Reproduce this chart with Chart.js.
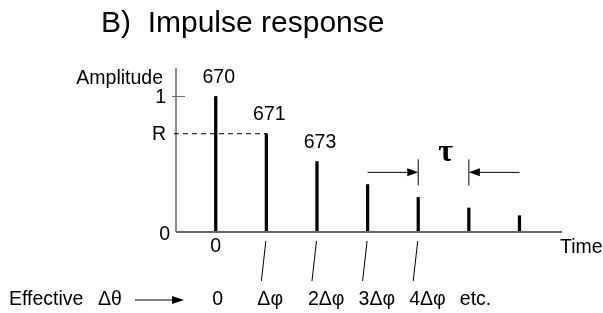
<!DOCTYPE html>
<html>
<head>
<meta charset="utf-8">
<script src="https://cdn.jsdelivr.net/npm/chart.js@4.4.0/dist/chart.umd.min.js"></script>
<style>
  html, body { margin: 0; padding: 0; background: #fff; }
  #wrap { width: 603px; height: 313px; position: relative; }
</style>
</head>
<body>
<div id="wrap"><canvas id="chart"></canvas></div>
<script>
// Impulse response data
const pulseTimes = [0, 1, 2, 3, 4, 5, 6];
const amplitudes = [1.0, 0.725, 0.52, 0.35, 0.255, 0.177, 0.12];
const pulseLabels = ['670', '671', '673', '', '', '', ''];

// y axis marks
const yMarkValues = [0, 0.725, 1];
const yMarkLabels = ['0', 'R', '1'];

// phase row under the axis
const phaseLabels = ['0', 'Δφ', '2Δφ', '3Δφ', '4Δφ', 'etc.'];
const slashedPulses = [1, 2, 3, 4];

// tau spacing annotation (between pulses 4 and 5)
const tauPulses = [4, 5];
const tauLevel = 0.44;

const FONT = '"Liberation Sans", Arial, sans-serif';

const decorPlugin = {
    id: 'decor',
    afterDatasetsDraw(chart) {
        const ctx = chart.ctx;
        const xs = chart.scales.x;
        const ys = chart.scales.y;
        const x0 = xs.left, y0 = ys.bottom;

        ctx.save();

        // axes
        ctx.strokeStyle = '#666';
        ctx.lineWidth = 1.5;
        ctx.beginPath();
        ctx.moveTo(x0, ys.top);
        ctx.lineTo(x0, y0);
        ctx.stroke();
        ctx.lineWidth = 2;
        ctx.beginPath();
        ctx.moveTo(x0, y0);
        ctx.lineTo(xs.right, y0);
        ctx.stroke();

        // tick at 1
        ctx.lineWidth = 1;
        ctx.beginPath();
        ctx.moveTo(x0 - 4, ys.getPixelForValue(1));
        ctx.lineTo(x0 + 9, ys.getPixelForValue(1));
        ctx.stroke();

        // dashed R level to pulse 671
        const yR = ys.getPixelForValue(yMarkValues[1]);
        ctx.strokeStyle = '#000';
        ctx.setLineDash([5, 4]);
        ctx.beginPath();
        ctx.moveTo(x0 - 2, yR);
        ctx.lineTo(xs.getPixelForValue(pulseTimes[1]), yR);
        ctx.stroke();
        ctx.setLineDash([]);

        ctx.fillStyle = '#000';
        ctx.font = '19.5px ' + FONT;
        ctx.textBaseline = 'middle';

        // y mark labels
        ctx.textAlign = 'right';
        yMarkValues.forEach((v, i) => {
            const y = ys.getPixelForValue(v);
            if (v === 0) ctx.fillText(yMarkLabels[i], x0 - 6, y + 3);
            else ctx.fillText(yMarkLabels[i], x0 - 10, y + 1);
        });
        ctx.fillText('Amplitude', x0 - 13, ys.top + 11);

        // pulse labels
        ctx.textAlign = 'center';
        pulseTimes.forEach((t, i) => {
            if (!pulseLabels[i]) return;
            const x = xs.getPixelForValue(t);
            const y = ys.getPixelForValue(amplitudes[i]);
            ctx.fillText(pulseLabels[i], x + 3, y - 19);
        });

        // x labels
        ctx.fillText('0', xs.getPixelForValue(0), y0 + 15);
        ctx.textAlign = 'left';
        ctx.fillText('Time', xs.right - 2, y0 + 16);

        // slashes linking pulses to phase row
        ctx.lineWidth = 1;
        slashedPulses.forEach(p => {
            const x = xs.getPixelForValue(pulseTimes[p]);
            ctx.beginPath();
            ctx.moveTo(x - 0.5, y0 + 9);
            ctx.lineTo(x - 5, y0 + 49);
            ctx.stroke();
        });

        // phase row
        const rowY = y0 + 68;
        ctx.fillText('Effective', 9, rowY);
        ctx.textAlign = 'center';
        ctx.fillText('Δθ', 110, rowY);
        ctx.beginPath();
        ctx.moveTo(135, rowY);
        ctx.lineTo(176, rowY);
        ctx.stroke();
        ctx.beginPath();
        ctx.moveTo(184, rowY);
        ctx.lineTo(172, rowY - 4);
        ctx.lineTo(172, rowY + 4);
        ctx.closePath();
        ctx.fill();
        phaseLabels.forEach((lab, i) => {
            const x = xs.getPixelForValue(pulseTimes[i]);
            if (lab.length === 1) {
                ctx.textAlign = 'center';
                ctx.fillText(lab, x + 2, rowY);
            } else {
                ctx.textAlign = 'left';
                ctx.fillText(lab, x - 9, rowY);
            }
        });

        // tau annotation
        const xa = xs.getPixelForValue(pulseTimes[tauPulses[0]]);
        const xb = xs.getPixelForValue(pulseTimes[tauPulses[1]]);
        const step = xb - xa;
        const ya = ys.getPixelForValue(tauLevel);
        ctx.lineWidth = 1;
        [xa, xb].forEach(x => {
            ctx.beginPath();
            ctx.moveTo(x, ya - 13);
            ctx.lineTo(x, ya + 13);
            ctx.stroke();
        });
        ctx.beginPath();
        ctx.moveTo(xa - step, ya);
        ctx.lineTo(xa - 10, ya);
        ctx.moveTo(xb + step, ya);
        ctx.lineTo(xb + 10, ya);
        ctx.stroke();
        ctx.beginPath();
        ctx.moveTo(xa, ya);
        ctx.lineTo(xa - 11, ya - 4);
        ctx.lineTo(xa - 11, ya + 4);
        ctx.closePath();
        ctx.moveTo(xb, ya);
        ctx.lineTo(xb + 11, ya - 4);
        ctx.lineTo(xb + 11, ya + 4);
        ctx.closePath();
        ctx.fill();
        ctx.textAlign = 'center';
        ctx.font = 'bold 32px "Liberation Serif", "DejaVu Serif", serif';
        ctx.fillText('τ', (xa + xb) / 2 + 2, ya - 20);

        // title
        ctx.textAlign = 'left';
        ctx.textBaseline = 'alphabetic';
        ctx.font = '30px ' + FONT;
        ctx.fillText('B)  Impulse response', 101, 32);

        ctx.restore();
    }
};

new Chart(document.getElementById('chart').getContext('2d'), {
    type: 'bar',
    data: {
        datasets: [{
            data: pulseTimes.map((t, i) => ({ x: t, y: amplitudes[i] })),
            backgroundColor: '#000',
            borderWidth: 0,
            barThickness: 2.6
        }]
    },
    options: {
        responsive: true,
        maintainAspectRatio: false,
        animation: false,
        layout: { padding: { left: 176, right: 41, top: 68, bottom: 81 } },
        plugins: { legend: { display: false }, tooltip: { enabled: false }, title: { display: false } },
        scales: {
            x: { type: 'linear', display: false, offset: false, min: -0.785, max: 6.84 },
            y: { type: 'linear', display: false, min: 0, max: 1.21 }
        }
    },
    plugins: [decorPlugin]
});
</script>
</body>
</html>
